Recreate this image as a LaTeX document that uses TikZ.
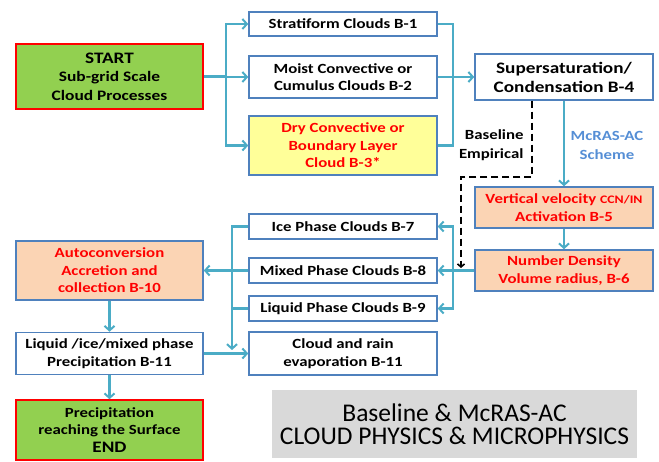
\documentclass[tikz,border=0pt]{standalone}
\usepackage{fontspec}
\setmainfont{Carlito}[FakeStretch=1.2]
\newfontfamily\titlefont{Carlito}
\usetikzlibrary{arrows.meta, positioning}
\definecolor{arrblue}{HTML}{4BACC6}
\definecolor{bordblue}{HTML}{4F81BD}
\definecolor{boxgreen}{HTML}{92D050}
\definecolor{boxyellow}{HTML}{FFFF99}
\definecolor{boxsalmon}{HTML}{FBD4B4}
\definecolor{schemeblue}{HTML}{558ED5}
\definecolor{titlegray}{HTML}{D9D9D9}
\begin{document}
\begin{tikzpicture}[x=1pt, y=-1pt,
    bx/.style={draw=bordblue, line width=1.5pt, fill=white, align=center, inner sep=0pt,
      font=\bfseries\fontsize{14}{17.5}\selectfont},
    gbx/.style={bx, draw=red, fill=boxgreen, minimum width=187pt},
    wbx/.style={bx, minimum width=188pt},
    rbx/.style={bx, text=red, fill=boxsalmon},
    ar/.style={draw=arrblue, line width=2.2pt, -{Straight Barb[length=4.5pt,width=10pt,line width=2pt]}},
    ln/.style={draw=arrblue, line width=2.2pt}]
        \useasboundingbox (0,0) rectangle (659,462);

        \draw node[gbx, minimum height=65pt, font=\bfseries\fontsize{14.5}{18.5}\selectfont] (start) at (109.5,76.5)
          {\fontsize{16}{18.5}\selectfont START\\Sub-grid Scale\\Cloud Processes};

        \draw node[wbx, minimum height=24pt] (strat) at (343,24) {Stratiform Clouds B-1};
        \draw node[wbx, minimum height=42pt] (moist) at (343,77) {Moist Convective or\\Cumulus Clouds B-2};
        \draw node[wbx, minimum height=59pt, fill=boxyellow, text=red] (dry) at (343,145.5)
          {Dry Convective or\\Boundary Layer\\Cloud B-3*};

        \draw node[bx, minimum width=178pt, minimum height=46pt, font=\bfseries\fontsize{16}{19}\selectfont] (super) at (564,77)
          {Supersaturation/\\Condensation B-4};
        \draw node[rbx, minimum width=178pt, minimum height=41pt] (vert) at (564,207.5)
          {Vertical velocity {\fontsize{11.5}{17.5}\selectfont CCN/IN}\\Activation B-5};
        \draw node[rbx, minimum width=178pt, minimum height=41pt] (numd) at (564,270.5)
          {Number Density\\Volume radius, B-6};

        \foreach \n/\y/\t in {ice/226.5/Ice Phase Clouds B-7, mixed/270.5/Mixed Phase Clouds B-8, liq/308.5/Liquid Phase Clouds B-9}
        \draw node[wbx, minimum height=25pt] (\n) at (343,\y) {\t};
        \draw node[wbx, minimum height=43pt] (evap) at (343,353.5) {Cloud and rain\\evaporation B-11};

        \draw node[rbx, minimum width=187pt, minimum height=59pt] (auto) at (109.5,270.5)
          {Autoconversion\\Accretion and\\collection B-10};
        \draw node[bx, minimum width=187pt, minimum height=42pt] (precip) at (109.5,353.5)
          {Liquid /ice/mixed phase\\Precipitation B-11};
        \draw node[gbx, minimum height=60pt] (endn) at (109.5,430)
          {Precipitation\\reaching the Surface\\{\fontsize{16}{17.5}\selectfont END}};

        \draw node[align=right, anchor=east, font=\bfseries\fontsize{14}{19}\selectfont] (base) at (527,145) {Baseline\\Empirical};
        \draw node[align=center, text=schemeblue, font=\bfseries\fontsize{14}{19}\selectfont] (scheme) at (607,145) {McRAS-AC\\Scheme};

        \draw node[fill=titlegray, minimum width=365pt, minimum height=68pt, align=center,
          font=\titlefont\fontsize{25.5}{23.5}\selectfont] (title) at (454.5,424)
          {Baseline \& McRAS-AC\\CLOUD PHYSICS \& MICROPHYSICS};

        \coordinate (j1) at (226,76.5);
        \draw[ln] (start) -- (j1);
        \foreach \n in {strat, moist, dry}
        \draw[ar] (j1) |- (\n.west);

        \coordinate (j2) at (453,77);
        \foreach \n in {strat, dry}
        \draw[ln] (\n.east) -| (j2);
        \draw[ar] (moist) -- (super);
        \draw[ar] (super) -- (vert);
        \draw[ar] (vert) -- (numd);

        \coordinate (d1) at (532,177);
        \coordinate (d2) at (461,268);
        \draw[dashed, line width=1.6pt, dash pattern=on 7pt off 4pt, -{Straight Barb[length=3pt,width=7pt]}]
          (super.south -| d1) -- (d1) -| (d2);

        \coordinate (j3) at (453,270.5);
        \draw[ln] (numd) -- (j3);
        \foreach \n in {ice, mixed, liq}
        \draw[ar] (j3) |- (\n.east);

        \coordinate (j4) at (232,350);
        \draw[ar] (ice.west) -| (j4);
        \draw[ln] (liq.west) -- (liq.west -| j4);
        \draw[ar] (mixed) -- (auto);
        \draw[ar] (auto) -- (precip);
        \draw[ar] (precip) -- (endn);
        \draw[ar] (precip) -- (evap);
      \end{tikzpicture}
\end{document}
